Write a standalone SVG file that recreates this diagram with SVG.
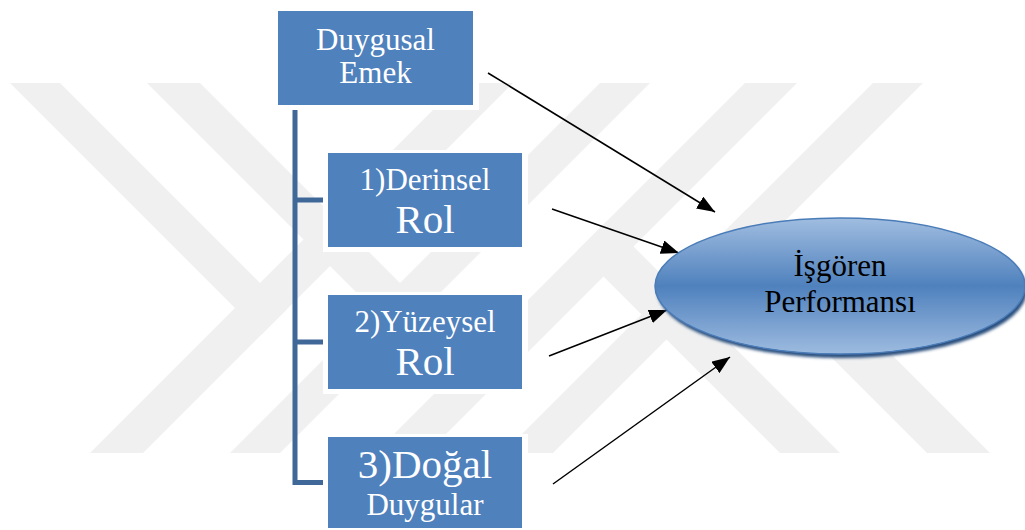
<svg xmlns="http://www.w3.org/2000/svg" width="1025" height="530" viewBox="0 0 1025 530">
<defs>
<style>
.wm{fill:#f0f0f0}
.box{fill:#4f81bd}
.halo{fill:#ffffff}
.w{fill:#ffffff}
.k{fill:#000000}
.br{stroke:#3f6898;stroke-width:5;fill:none}
.ar{stroke:#000000;stroke-width:1.5;fill:none;marker-end:url(#ah)}
</style>
<linearGradient id="eg" x1="0" y1="0" x2="0" y2="1">
<stop offset="0" stop-color="#a0bde0"/>
<stop offset="0.5" stop-color="#4f81bd"/>
<stop offset="1" stop-color="#9dbbdf"/>
</linearGradient>
<filter id="blur" x="-10%" y="-10%" width="120%" height="130%">
<feGaussianBlur stdDeviation="1.5"/>
</filter>
<marker id="ah" markerUnits="userSpaceOnUse" markerWidth="18" markerHeight="14" refX="18" refY="7" orient="auto">
<path d="M0,0 L18,7 L0,14 z" fill="#000000"/>
</marker>
</defs>
<rect width="1025" height="530" fill="#ffffff"/>
<g id="watermark">
<polygon class="wm" points="10,83 60,83 286.5,309.5 261.5,334.5"/>
<polygon class="wm" points="460,83 513,83 143,453 90,453"/>
<polygon class="wm" points="147,83 200,83 425,308 398.5,334.5"/>
<polygon class="wm" points="600,83 650,83 280,453 230,453"/>
<polygon class="wm" points="745,83 797,83 427,453 375,453"/>
<polygon class="wm" points="780,453 840,453 607.5,220.5 577.5,250.5"/>
<polygon class="wm" points="873,83 923,83 553,453 503,453"/>
<polygon class="wm" points="927,453 990,453 746.5,209.5 715,241"/>
</g>
<g id="connectors">
<polyline class="br" points="295,110 295,482.5 323,482.5"/>
<line class="br" x1="295" y1="200" x2="323" y2="200"/>
<line class="br" x1="295" y1="342" x2="323" y2="342"/>
<line class="ar" x1="488" y1="73" x2="715" y2="212"/>
<line class="ar" x1="552" y1="209" x2="679" y2="253"/>
<line class="ar" x1="549" y1="356" x2="667" y2="310"/>
<line class="ar" x1="553" y1="484" x2="730" y2="357"/>
</g>
<g font-family="Liberation Serif, Times New Roman, serif" text-anchor="middle">
<g id="node-duygusal-emek">
<rect class="halo" x="273" y="8" width="206" height="102"/>
<rect class="box" x="278" y="11" width="195" height="94"/>
<text class="w" font-size="31" x="375.5" y="50">Duygusal</text>
<text class="w" font-size="31" x="375.5" y="83">Emek</text>
</g>
<g id="node-derinsel">
<rect class="halo" x="323" y="150" width="205" height="102"/>
<rect class="box" x="328" y="153" width="194" height="94"/>
<text class="w" font-size="31" x="425" y="190">1)Derinsel</text>
<text class="w" font-size="41" x="425" y="233">Rol</text>
</g>
<g id="node-yuzeysel">
<rect class="halo" x="323" y="292" width="205" height="102"/>
<rect class="box" x="328" y="295" width="194" height="94"/>
<text class="w" font-size="31" x="425" y="332">2)Yüzeysel</text>
<text class="w" font-size="41" x="425" y="375">Rol</text>
</g>
<g id="node-dogal">
<rect class="halo" x="323" y="434" width="205" height="96"/>
<rect class="box" x="328" y="437" width="194" height="91"/>
<text class="w" font-size="41" x="425" y="478">3)Doğal</text>
<text class="w" font-size="31" x="425" y="515">Duygular</text>
</g>
<g id="node-performans">
<ellipse cx="842" cy="290" rx="185" ry="68" fill="#2b4f7e" filter="url(#blur)"/>
<ellipse cx="840" cy="286" rx="185" ry="68" fill="url(#eg)" stroke="#4a7cb8" stroke-width="1.5"/>
<text class="k" font-size="31" x="840" y="276">İşgören</text>
<text class="k" font-size="31" x="840" y="312">Performansı</text>
</g>
</g>
</svg>
